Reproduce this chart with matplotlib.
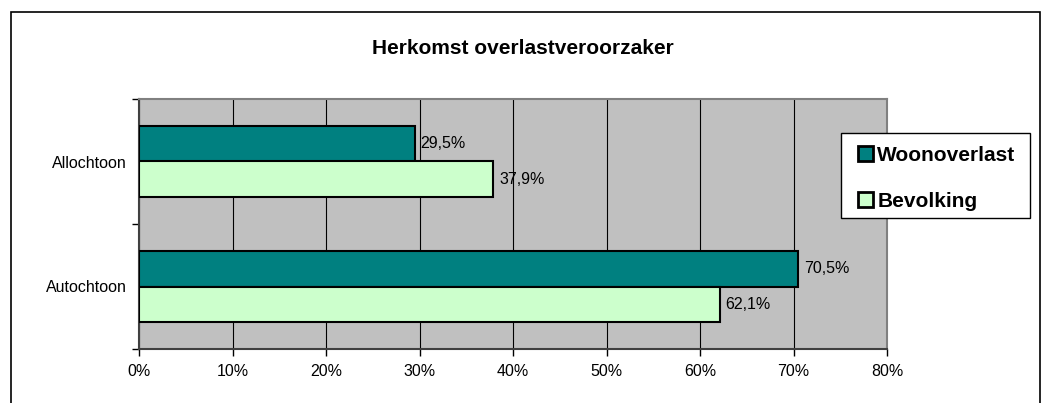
import numpy as np
import matplotlib.pyplot as plt
from matplotlib.patches import Rectangle

plt.rcParams['font.family'] = ['Liberation Sans', 'DejaVu Sans']

categories = ["Autochtoon", "Allochtoon"]
woonoverlast = [70.5, 29.5]
bevolking = [62.1, 37.9]
series_names = ["Woonoverlast", "Bevolking"]
colors = ["#008080", "#CCFFCC"]

fig = plt.figure(figsize=(10.45, 4.03), dpi=100)
W, H = 1045, 403

# outer chart frame
fig.patches.append(Rectangle((11 / W, -0.1), (1040 - 11) / W, 1.1 - 12 / H,
                             transform=fig.transFigure, fill=False,
                             edgecolor="black", linewidth=1.2))
# legend box
fig.patches.append(Rectangle((841 / W, 1 - 218 / H), (1030 - 841) / W, (218 - 133) / H,
                             transform=fig.transFigure, facecolor="white",
                             edgecolor="black", linewidth=1.0, zorder=5))

ax = fig.add_axes([139 / W, 1 - 349 / H, (887 - 139) / W, (349 - 99) / H])
ax.set_facecolor("#C0C0C0")

y = np.arange(len(categories))
h = 0.285
bars1 = ax.barh(y + h / 2, woonoverlast, height=h, color=colors[0],
                edgecolor="black", linewidth=1.5, label=series_names[0], zorder=3)
bars2 = ax.barh(y - h / 2, bevolking, height=h, color=colors[1],
                edgecolor="black", linewidth=1.5, label=series_names[1], zorder=3)

for bars, vals in ((bars1, woonoverlast), (bars2, bevolking)):
    for b, v in zip(bars, vals):
        ax.text(v + 0.6, b.get_y() + b.get_height() / 2,
                f"{v:.1f}%".replace(".", ","), va="center", ha="left", fontsize=11.5)

ax.set_xlim(0, 80)
ax.set_ylim(-0.5, 1.5)
ax.set_xticks(np.arange(0, 81, 10))
ax.set_xticklabels([f"{t}%" for t in range(0, 81, 10)], fontsize=11.5)
ax.set_yticks(y)
ax.set_yticklabels(categories, fontsize=11.5)
ax.set_yticks([-0.5, 0.5, 1.5], minor=True)
ax.tick_params(axis="y", which="major", length=0, pad=9)
ax.tick_params(axis="y", which="minor", length=5, width=1)
ax.tick_params(axis="x", length=5, width=1, pad=6)
ax.grid(axis="x", color="black", linewidth=0.8, zorder=1)
ax.set_axisbelow(True)

for side in ("top", "right"):
    ax.spines[side].set_color("#808080")
    ax.spines[side].set_linewidth(1.5)
for side in ("left", "bottom"):
    ax.spines[side].set_color("#404040")
    ax.spines[side].set_linewidth(1.5)

fig.text(0.5, 1 - 48 / H, "Herkomst overlastveroorzaker", ha="center",
         va="center", fontsize=15, fontweight="bold")

leg = fig.legend(loc="upper left", bbox_to_anchor=(858 / W, 1 - 146 / H),
                 frameon=False, prop={"size": 15, "weight": "bold"},
                 handlelength=0.72, handleheight=0.72, handletextpad=0.2,
                 labelspacing=1.3, borderpad=0, borderaxespad=0)
leg.set_zorder(6)
for hnd in leg.legend_handles:
    hnd.set_linewidth(2)

fig.savefig("out.png", dpi=100)
